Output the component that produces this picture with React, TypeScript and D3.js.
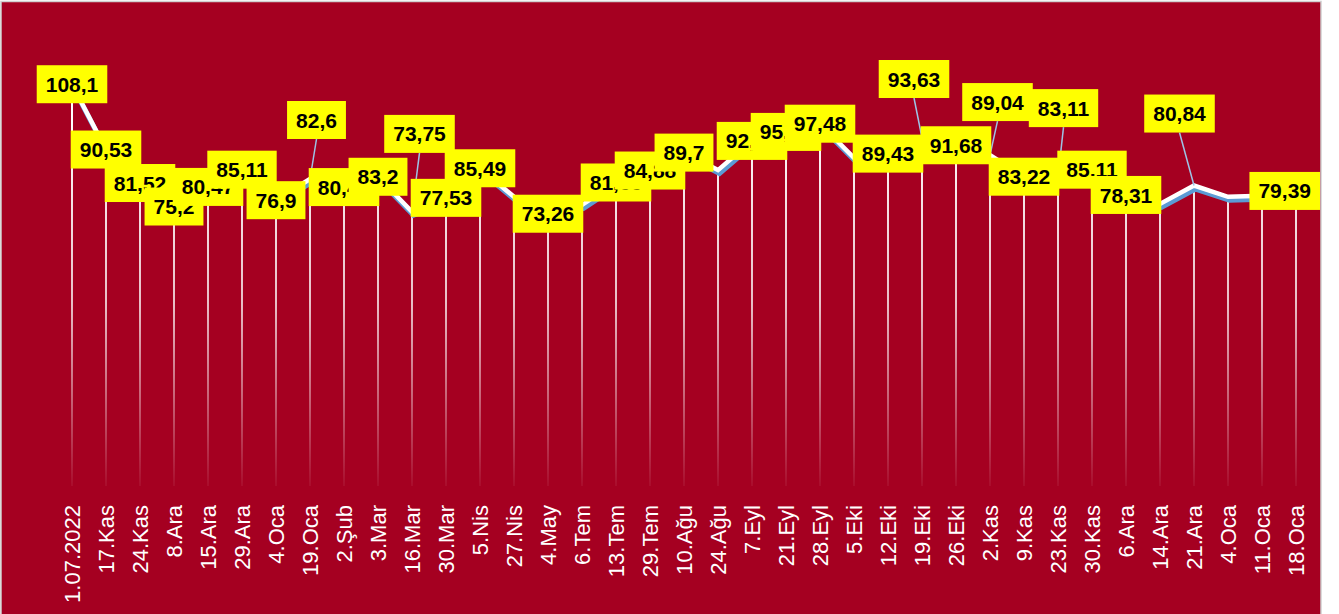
import * as d3 from "d3";

const width = 1339;
const height = 614;
const chartRight = 1321;
const bg = "#A50021";

// kategori ekseni
const categories = [
  "1.07.2022", "17.Kas", "24.Kas", "8.Ara", "15.Ara", "29.Ara", "4.Oca", "19.Oca",
  "2.Şub", "3.Mar", "16.Mar", "30.Mar", "5.Nis", "27.Nis", "4.May", "6.Tem",
  "13.Tem", "29.Tem", "10.Ağu", "24.Ağu", "7.Eyl", "21.Eyl", "28.Eyl", "5.Eki",
  "12.Eki", "19.Eki", "26.Eki", "2.Kas", "9.Kas", "23.Kas", "30.Kas", "6.Ara",
  "14.Ara", "21.Ara", "4.Oca", "11.Oca", "18.Oca",
];

const values = [
  108.1, 90.53, 81.52, 75.2, 80.47, 85.11, 76.9, 82.6,
  80.43, 83.2, 73.75, 77.53, 85.49, 77.8, 73.26, 75.6,
  81.66, 84.88, 89.7, 85.0, 92.85, 95.27, 97.48, 88.3,
  89.43, 93.63, 91.68, 89.04, 83.22, 83.11, 85.11, 78.31,
  75.9, 80.84, 77.8, 78.1, 79.39,
];

// etiketi olmayan noktalar
const unlabelled = [13, 15, 19, 23, 32, 34, 35];

// elle taşınmış etiketler (kutu merkezi kayması)
const lifted: Record<number, [number, number]> = {
  7: [6.5, -59],
  10: [7.5, -78],
  25: [-8, -59],
  27: [7.5, -53],
  29: [5.5, -69],
  33: [-14.5, -72],
};

const labelFont = "bold 21px 'Liberation Sans'";
let ctx: CanvasRenderingContext2D | null = null;
const textWidth = (s: string) => {
  if (!ctx) ctx = document.createElement("canvas").getContext("2d");
  if (!ctx) return s.length * 11;
  ctx.font = labelFont;
  return ctx.measureText(s).width;
};

const fmt = (v: number) => String(v).replace(".", ",");

const App = () => {
  const xScale = d3
    .scalePoint<number>()
    .domain(d3.range(categories.length))
    .range([55, 1313])
    .padding(0.5);

  const yScale = d3.scaleLinear().domain([0, 120]).range([486, 40]);
  const y0 = yScale(0);

  const line = d3
    .line<number>()
    .x((_, i) => xScale(i) as number)
    .y((d) => yScale(d));
  const path = line(values) || "";

  const labels = values
    .map((v, i) => ({ v, i }))
    .filter((d) => !unlabelled.includes(d.i))
    .map(({ v, i }) => {
      const text = fmt(v);
      const w = textWidth(text) + 18;
      const h = 38;
      const px = xScale(i) as number;
      const py = yScale(v);
      const [dx, dy] = lifted[i] || [0, 0];
      let cx = px + dx;
      if (cx + w / 2 > chartRight - 1) cx = chartRight - 1 - w / 2;
      const cy = py + dy;
      return { text, w, h, px, py, cx, cy, isLifted: !!lifted[i] };
    });

  return (
    <svg
      width={width}
      height={height}
      viewBox={`0 0 ${width} ${height}`}
      style={{ position: "absolute", left: 0, top: 0, display: "block" }}
    >
      <defs>
        <linearGradient
          id="drop"
          gradientUnits="userSpaceOnUse"
          x1={0}
          x2={0}
          y1={120}
          y2={y0}
        >
          <stop offset="0" stopColor="#ffffff" stopOpacity={1} />
          <stop offset="0.5" stopColor="#ffffff" stopOpacity={0.75} />
          <stop offset="1" stopColor="#ffffff" stopOpacity={0.05} />
        </linearGradient>
      </defs>
      <rect x={0} y={0} width={width} height={height} fill="#ffffff" />
      <rect
        x={1}
        y={1.5}
        width={chartRight - 1}
        height={height}
        fill={bg}
        stroke="#d0d0d0"
        strokeWidth={1.5}
      />

      <g className="drop-lines">
        {values.map((v, i) => (
          <line
            key={i}
            x1={xScale(i)}
            x2={xScale(i)}
            y1={yScale(v)}
            y2={y0}
            stroke="url(#drop)"
            strokeWidth={2}
          />
        ))}
      </g>

      <g className="series">
        <path
          d={path}
          fill="none"
          stroke="#5B9BD5"
          strokeWidth={5}
          transform="translate(1.5,3.5)"
        />
        <path d={path} fill="none" stroke="#ffffff" strokeWidth={4.5} />
      </g>

      <g className="leaders">
        {labels
          .filter((d) => d.isLifted)
          .map((d, k) => (
            <line
              key={k}
              x1={d.cx}
              y1={d.cy + d.h / 2}
              x2={d.px}
              y2={d.py}
              stroke="#9DC3E6"
              strokeWidth={1.5}
            />
          ))}
      </g>

      <g className="labels">
        {labels.map((d, k) => (
          <g key={k}>
            <rect
              x={d.cx - d.w / 2}
              y={d.cy - d.h / 2}
              width={d.w}
              height={d.h}
              fill="#FFFF00"
            />
            <text
              x={d.cx}
              y={d.cy}
              dy="0.36em"
              textAnchor="middle"
              fontFamily="'Liberation Sans', Arial, sans-serif"
              fontWeight="bold"
              fontSize={21}
              fill="#000000"
            >
              {d.text}
            </text>
          </g>
        ))}
      </g>

      <g className="x-axis">
        {categories.map((c, i) => (
          <text
            key={i}
            transform={`translate(${xScale(i)},505) rotate(-90)`}
            dy="0.35em"
            textAnchor="end"
            fontFamily="'Liberation Sans', Arial, sans-serif"
            fontSize={22}
            fill="#ffffff"
          >
            {c}
          </text>
        ))}
      </g>
    </svg>
  );
};

export default App;
